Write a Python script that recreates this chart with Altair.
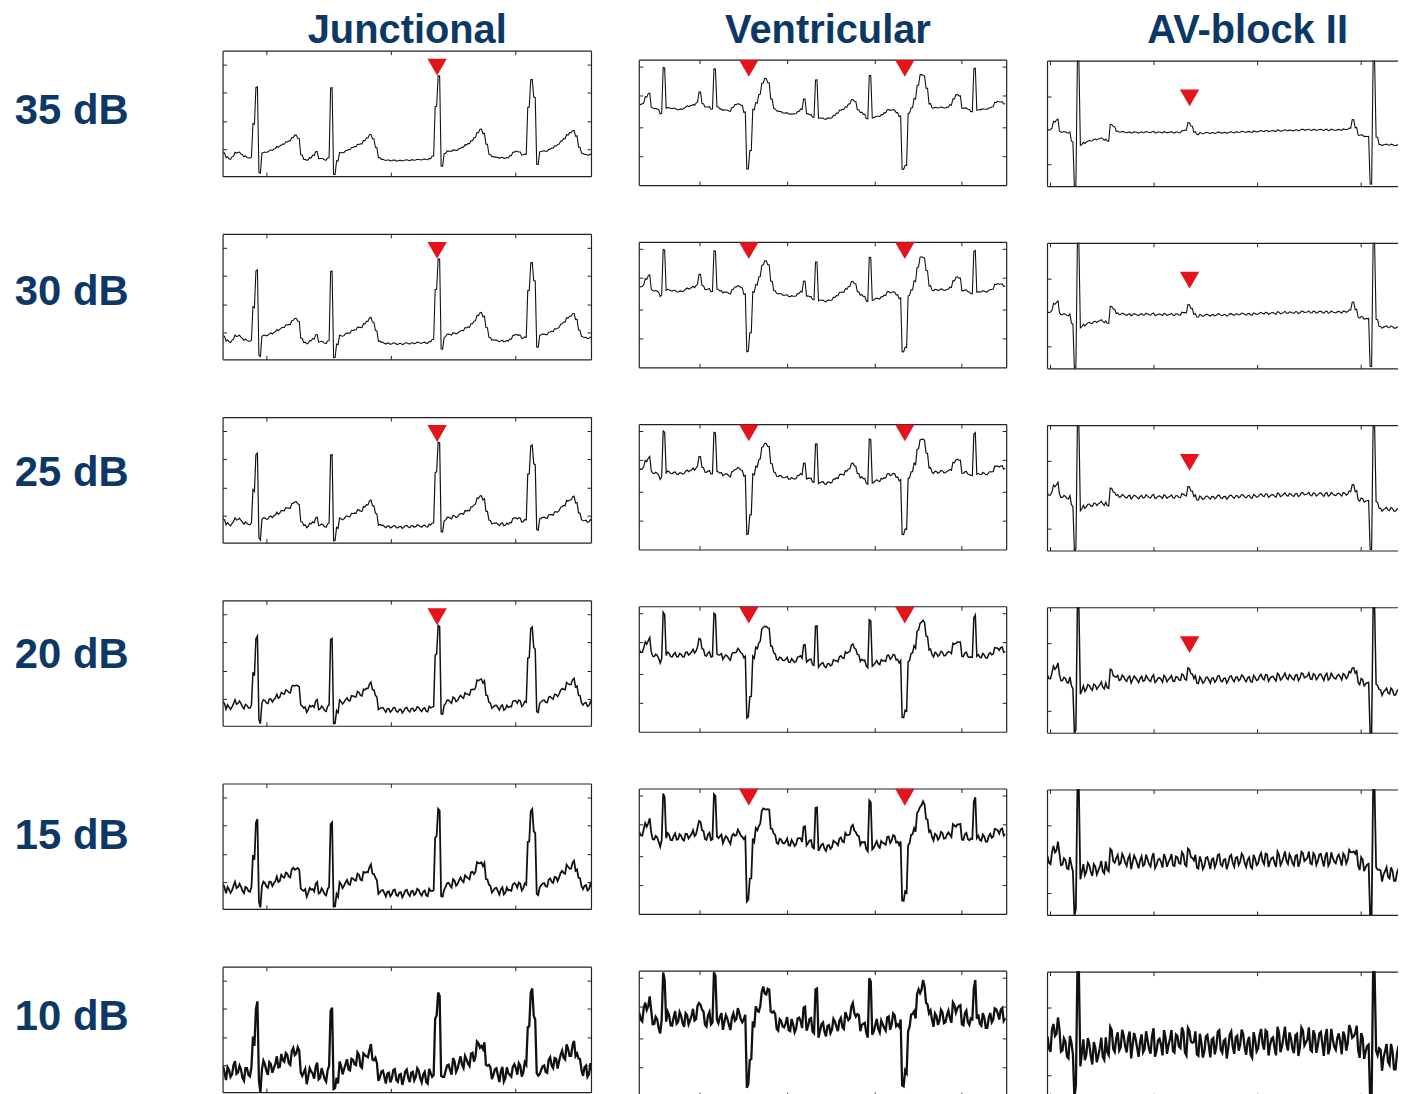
import altair as alt
import pandas as pd

COLUMNS = ["Junctional", "Ventricular", "AV-block II"]
ROW_LABELS = ["35 dB", "30 dB", "25 dB", "20 dB", "15 dB", "10 dB"]
SAMPLE_STEP = 3

# Clean (35 dB) waveforms, one value every SAMPLE_STEP samples
JUNCTIONAL = [
    24, 19.5, 17.5, 20, 24, 24.5, 22.5, 20.5, 18.8, 19,
    53, 90, 3.7, 23.7, 24.4, 25.5, 26.8, 28, 29.7, 31.2,
    32.7, 34.6, 36.4, 39, 42, 38, 22, 17, 17, 18.7,
    21.7, 25, 18.5, 17.8, 17, 18.5, 89.6, 2, 16, 23.7,
    24.4, 25.9, 27.4, 28.9, 30.3, 31.9, 33.4, 36, 39, 42,
    38.5, 29, 19.5, 17, 16.8, 16.5, 16.3, 16.1, 16.1, 16.2,
    16.3, 16.4, 16.5, 16.6, 16.7, 16.9, 17.2, 17.4, 17.6, 17.9,
    21, 70, 101.5, 10, 23.5, 25.5, 25.8, 26.3, 26.8, 28,
    29.9, 31.8, 33.6, 35.7, 39.7, 43.7, 47.7, 43, 33, 22,
    20.4, 19.3, 19.2, 19, 18.9, 18.7, 21.3, 24.3, 25.7, 24.5,
    22, 22, 70, 97, 80, 12, 25.5, 25.7, 25.9, 27,
    28.8, 30.6, 32.7, 35.4, 38.4, 41.6, 44.7, 46, 41, 29.3,
    23.7, 22, 22, 22,
]
VENTRICULAR = [
    81.7, 82.7, 89, 92.5, 78.2, 77.5, 76.8, 72.5, 118.3, 78,
    78, 77.7, 76.9, 76, 76.7, 78.3, 79.9, 80.3, 81, 83.2,
    94, 82, 79.5, 78.8, 77, 116.7, 79.3, 76.6, 76.1, 75.5,
    75, 78.3, 81.7, 81.7, 81, 73.3, 17, 35, 76.7, 82.7,
    91.7, 102.5, 108, 103, 87.2, 76.7, 75.4, 74.2, 73.2, 72.7,
    72.2, 71.7, 72.7, 74, 77, 86.7, 72.5, 70.7, 69, 106,
    68.3, 67.3, 66.9, 67.5, 68.1, 70, 73, 75.5, 77, 78.7,
    82.3, 85.9, 84.8, 75.7, 73.8, 71.4, 67.5, 110, 68.4, 69,
    69.7, 71, 73.5, 76, 76.2, 75.5, 73.5, 69.3, 16.7, 20,
    73, 77.8, 87.5, 100.5, 112, 110, 98, 82, 78.3, 78.3,
    78.3, 78.3, 78.3, 78.3, 81.4, 86.6, 91.7, 90, 78, 77.4,
    76.7, 74, 118, 75.5, 76.7, 76.7, 77.2, 77.7, 79.2, 83.2,
    84.7, 83.7, 82.4,
]
AV_BLOCK = [
    57, 58, 65, 67, 55.2, 55, 54.7, 54.5, 45, 0.3,
    150, 42, 43.6, 44.8, 46, 46.8, 47.5, 48.2, 48.3, 47,
    45.8, 62, 61, 55.2, 55, 54.7, 54.5, 54.3, 54.4, 54.5,
    54.5, 54.6, 54.6, 54.7, 54.7, 54.7, 54.6, 54.6, 54.5, 54.5,
    54.5, 54.4, 54.4, 54.4, 54.3, 55.5, 57.5, 64, 61, 54.5,
    52.7, 53.7, 53.8, 53.9, 53.9, 54, 54, 54.1, 54.2, 54.2,
    54.3, 54.4, 54.5, 54.6, 54.7, 54.8, 55, 55.1, 55.2, 55.3,
    55.4, 55.5, 55.6, 55.7, 55.8, 56, 56, 56.1, 56.2, 56.3,
    56.4, 56.5, 56.6, 56.7, 56.8, 56.9, 57, 57, 57, 57,
    57, 57, 57, 57, 57, 57, 57, 57, 57.1, 57.4,
    57.7, 58, 67.5, 58.7, 52, 51.3, 50.8, 50.3, 3, 150,
    50, 42, 42, 42, 42, 42, 42, 41.5, 40.5, 35.5,
    28.7,
]
WAVES = {"Junctional": JUNCTIONAL, "Ventricular": VENTRICULAR, "AV-block II": AV_BLOCK}

# Noise patterns (hand-typed): one for each sample and one for the half-step between samples
NOISE = [
    0.3, -0.8, 0.6, -0.2, 0.9, -0.5, 0.1, -1.0, 0.7, -0.3,
    0.4, -0.7, 1.0, -0.1, 0.5, -0.9, 0.2, -0.4, 0.8, -0.6,
    0.0, 0.6, -0.8, 0.3, -0.5, 0.9, -0.2, 0.4, -1.0, 0.7,
    -0.3, 0.1, -0.6, 0.8, -0.4, 0.5, -0.9, 0.2, -0.1, 0.9,
    -0.7, 0.3, -0.5, 0.6, -0.2, 1.0, -0.8, 0.4, -0.3, 0.1,
    -0.6, 0.7, -0.9, 0.5, -0.1, 0.3, -0.7, 0.8, -0.4, 0.2,
    -1.0, 0.6, -0.2, 0.4, -0.5, 0.9, -0.3, 0.1, -0.8, 0.7,
    -0.6, 0.5, -0.1, 0.8, -0.9, 0.2, -0.4, 1.0, -0.7, 0.3,
    -0.2, 0.6, -0.5, 0.4, -1.0, 0.9, -0.3, 0.1, -0.6, 0.7,
    -0.8, 0.5, -0.2, 0.3, -0.9, 0.8, -0.4, 0.2, -0.1, 0.6,
    -0.7, 1.0, -0.5, 0.4, -0.3, 0.9, -0.8, 0.1, -0.6, 0.7,
    -0.2, 0.5, -1.0, 0.3, -0.4, 0.8, -0.9, 0.2, -0.5, 0.6,
    -0.1, 0.4, -0.7, 0.9, -0.6, 0.2, -0.3, 0.8, -0.5, 0.1,
]
NOISE_HALF = [
    -0.5, 0.7, -0.2, 0.9, -0.6, 0.3, -0.9, 0.5, -0.1, 0.8,
    -0.7, 0.2, -0.4, 1.0, -0.3, 0.6, -0.8, 0.1, -0.5, 0.9,
    -0.2, 0.4, -1.0, 0.7, -0.3, 0.5, -0.6, 0.8, -0.1, 0.3,
    -0.9, 0.6, -0.4, 0.2, -0.7, 1.0, -0.5, 0.3, -0.8, 0.4,
    -0.1, 0.9, -0.6, 0.5, -0.3, 0.7, -1.0, 0.2, -0.4, 0.8,
    -0.7, 0.1, -0.5, 0.6, -0.9, 0.4, -0.2, 0.9, -0.6, 0.3,
    -0.3, 0.8, -0.7, 0.5, -0.1, 0.6, -0.8, 0.4, -1.0, 0.2,
    -0.4, 0.9, -0.5, 0.7, -0.2, 0.3, -0.9, 0.6, -0.3, 1.0,
    -0.6, 0.2, -0.8, 0.5, -0.4, 0.7, -0.1, 0.9, -0.7, 0.4,
    -0.3, 0.6, -1.0, 0.8, -0.5, 0.1, -0.6, 0.5, -0.9, 0.3,
    -0.2, 0.7, -0.4, 0.9, -0.8, 0.6, -0.3, 0.2, -0.7, 1.0,
    -0.5, 0.4, -0.1, 0.8, -0.6, 0.3, -0.9, 0.7, -0.2, 0.5,
    -0.8, 0.6, -0.4, 0.1, -0.7, 0.9, -0.3, 0.5, -1.0, 0.4,
]
NOISE_AMP = {
    "Junctional": [0.6, 1.0, 1.6, 3.0, 4.2, 8.5],
    "Ventricular": [0.6, 1.0, 1.6, 3.0, 4.5, 9.0],
    "AV-block II": [0.8, 1.3, 2.2, 4.0, 8.0, 15.0],
}
ROW_STROKE = [1.1, 1.1, 1.2, 1.5, 1.8, 2.3]

# Red detection markers
MARK_X = {"Junctional": [215], "Ventricular": [110, 266.7], "AV-block II": [142.7]}
MARK_Y = {"Junctional": [110], "Ventricular": [117.7, 117.7], "AV-block II": [89]}
MARK_ROWS = {"Junctional": 4, "Ventricular": 5, "AV-block II": 4}

X_TICKS = {"Junctional": [44, 169, 294], "Ventricular": [61, 149, 237, 324], "AV-block II": [3, 107, 211, 315]}
Y_TICKS = {"Junctional": [27, 55, 84, 112], "Ventricular": [29, 58, 90, 119], "AV-block II": [22, 90]}

PANEL_W = {"Junctional": 370, "Ventricular": 369, "AV-block II": 352}
PANEL_H = 126
TOP_GAP = {"Junctional": 0, "Ventricular": 9, "AV-block II": 10}
ROW_GAP = 56
TITLE_DX = {"Junctional": 0, "Ventricular": 5, "AV-block II": 25}

NAVY = "#0c3866"
FONT = "Liberation Sans"
BOX = "#222222"


def panel(col, r):
    base = WAVES[col]
    amp = NOISE_AMP[col][r]
    ts, vs = [], []
    for i, b in enumerate(base):
        ts += [i * SAMPLE_STEP, i * SAMPLE_STEP + SAMPLE_STEP / 2]
        vs += [b + amp * NOISE[i], b + amp * NOISE_HALF[i]]
    df = pd.DataFrame({"t": ts, "v": vs})
    W = PANEL_W[col]
    g = TOP_GAP[col]
    H = PANEL_H + g
    xs = alt.Scale(domain=[0, W], nice=False, zero=False)
    ys = alt.Scale(domain=[0, PANEL_H], range=[H, g], nice=False, zero=False, clamp=True)
    layers = []
    layers.append(
        alt.Chart(df).mark_line(color="#111111", strokeWidth=ROW_STROKE[r], clip=True).encode(
            x=alt.X("t:Q", scale=xs, axis=None),
            y=alt.Y("v:Q", scale=ys, axis=None),
        )
    )
    xt = alt.Chart(pd.DataFrame({"t": X_TICKS[col]}))
    layers.append(xt.mark_rule(color=BOX).encode(
        x=alt.X("t:Q", scale=xs, axis=None), y=alt.value(g), y2=alt.value(g + 4)))
    layers.append(xt.mark_rule(color=BOX).encode(
        x=alt.X("t:Q", scale=xs, axis=None), y=alt.value(H - 4), y2=alt.value(H)))
    yt = alt.Chart(pd.DataFrame({"v": Y_TICKS[col]}))
    layers.append(yt.mark_rule(color=BOX).encode(
        y=alt.Y("v:Q", scale=ys, axis=None), x=alt.value(0), x2=alt.value(4)))
    one = alt.Chart(pd.DataFrame({"d": [0]}))
    layers.append(one.mark_rule(color=BOX, strokeWidth=1.2).encode(
        x=alt.value(0), x2=alt.value(W), y=alt.value(g)))
    layers.append(one.mark_rule(color=BOX, strokeWidth=1.2).encode(
        x=alt.value(0), x2=alt.value(W), y=alt.value(H)))
    layers.append(one.mark_rule(color=BOX, strokeWidth=1.2).encode(
        x=alt.value(0), y=alt.value(g), y2=alt.value(H)))
    if col != "AV-block II":
        layers.append(yt.mark_rule(color=BOX).encode(
            y=alt.Y("v:Q", scale=ys, axis=None), x=alt.value(W - 4), x2=alt.value(W)))
        layers.append(one.mark_rule(color=BOX, strokeWidth=1.2).encode(
            x=alt.value(W), y=alt.value(g), y2=alt.value(H)))
    if r < MARK_ROWS[col]:
        mk = pd.DataFrame({"t": MARK_X[col], "v": MARK_Y[col]})
        layers.append(alt.Chart(mk).mark_point(
            shape="triangle-down", filled=True, color="#e3141b", opacity=1, size=380
        ).encode(x=alt.X("t:Q", scale=xs, axis=None), y=alt.Y("v:Q", scale=ys, axis=None)))
    return alt.layer(*layers).properties(width=W, height=H)


def column(col):
    return alt.vconcat(
        *[panel(col, r) for r in range(len(ROW_LABELS))],
        spacing=ROW_GAP - TOP_GAP[col],
        title=alt.TitleParams(
            text=col, fontSize=40, font=FONT, fontWeight="bold", color=NAVY,
            anchor="middle", offset=0, dx=TITLE_DX[col],
        ),
    )


pitch = PANEL_H + ROW_GAP
label_h = len(ROW_LABELS) * PANEL_H + (len(ROW_LABELS) - 1) * ROW_GAP
labels = alt.Chart(pd.DataFrame({"lab": ROW_LABELS})).mark_text(
    font=FONT, fontSize=42, fontWeight="bold", color=NAVY, align="center", baseline="middle", dy=-3
).encode(
    y=alt.Y("lab:N", sort=ROW_LABELS,
            scale=alt.Scale(type="point", padding=(label_h / pitch - (len(ROW_LABELS) - 1)) / 2),
            axis=None),
    x=alt.value(64),
    text="lab:N",
).properties(width=128, height=label_h)

inner1 = alt.hconcat(column("Junctional"), column("Ventricular"), spacing=46)
inner2 = alt.hconcat(inner1, column("AV-block II"), spacing=39)
chart = alt.hconcat(labels, inner2, spacing=87).properties(
    padding=0, background="white"
).configure_view(stroke=None)

chart.save("out.html", embed_options={"renderer": "svg", "actions": False})
